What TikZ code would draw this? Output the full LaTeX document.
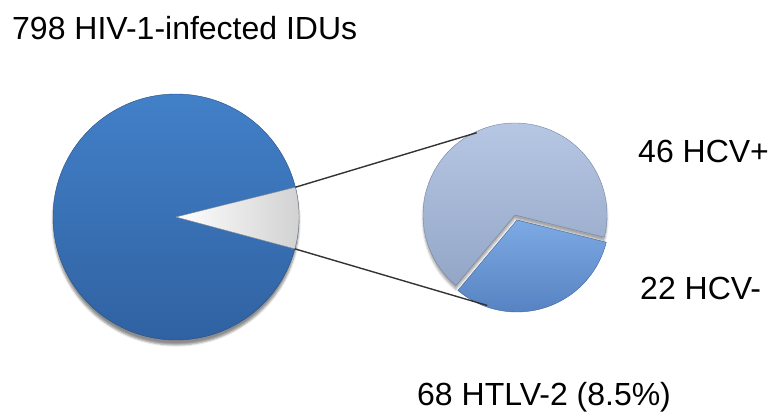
\documentclass[tikz,border=0pt]{standalone}
\usepackage{fontspec}
\setmainfont{Liberation Sans}
\usetikzlibrary{shadows.blur}
\definecolor{bigtop}{RGB}{66,128,200}
\definecolor{bigbot}{RGB}{48,98,162}
\definecolor{lighttop}{RGB}{184,201,230}
\definecolor{lightbot}{RGB}{148,166,198}
\definecolor{darktop}{RGB}{125,170,228}
\definecolor{darkbot}{RGB}{82,126,190}
\begin{document}
\begin{tikzpicture}[x=1pt, y=1pt, node distance=340pt,
    pie/.style={circle, outer sep=0pt, inner sep=0pt},
    lbl/.style={anchor=base west, inner sep=0pt, font=\fontsize{32}{38}\selectfont}]
    \useasboundingbox (0,0) rectangle (770,416);
    \node[pie, minimum size=246pt, top color=bigtop, bottom color=bigbot, draw=bigbot!80!black, thin,
          blur shadow={shadow xshift=0pt, shadow yshift=-5pt, shadow opacity=45}] (B) at (176,199) {};
    \node[pie, minimum size=186pt, right of=B] (S) {};

    % slices
    \path[left color=white, right color=black!18, draw=black!45, thin]
        (B.center) -- (B.14) arc[start angle=14, end angle=-15, radius=123pt] -- cycle;
    \path[top color=lighttop, bottom color=lightbot, draw=lightbot!80!black, thin,
          blur shadow={shadow xshift=0pt, shadow yshift=-4pt, shadow opacity=35}]
        ([shift={(-1pt,2pt)}]S.center) -- ++(-14:92pt) arc[start angle=-14, end angle=230, radius=92pt] -- cycle;
    \path[top color=darktop, bottom color=darkbot, draw=darkbot!80!black, thin]
        ([shift={(1pt,-3pt)}]S.center) -- ++(-130:92pt) arc[start angle=-130, end angle=-14, radius=92pt] -- cycle;

    \draw[black!80, line width=1.4pt] (B.14) -- (S.115);
    \draw[black!80, line width=1.4pt] (B.-15) -- (S.-108);

    \node[lbl] (T) at (12,376) {798 HIV-1-infected IDUs};
    \node[lbl] (P) at (638,254) {46 HCV+};
    \node[lbl] (N) at (640,117) {22 HCV-};
    \node[lbl] (H) at (417,11) {68 HTLV-2 (8.5\%)};
\end{tikzpicture}
\end{document}
